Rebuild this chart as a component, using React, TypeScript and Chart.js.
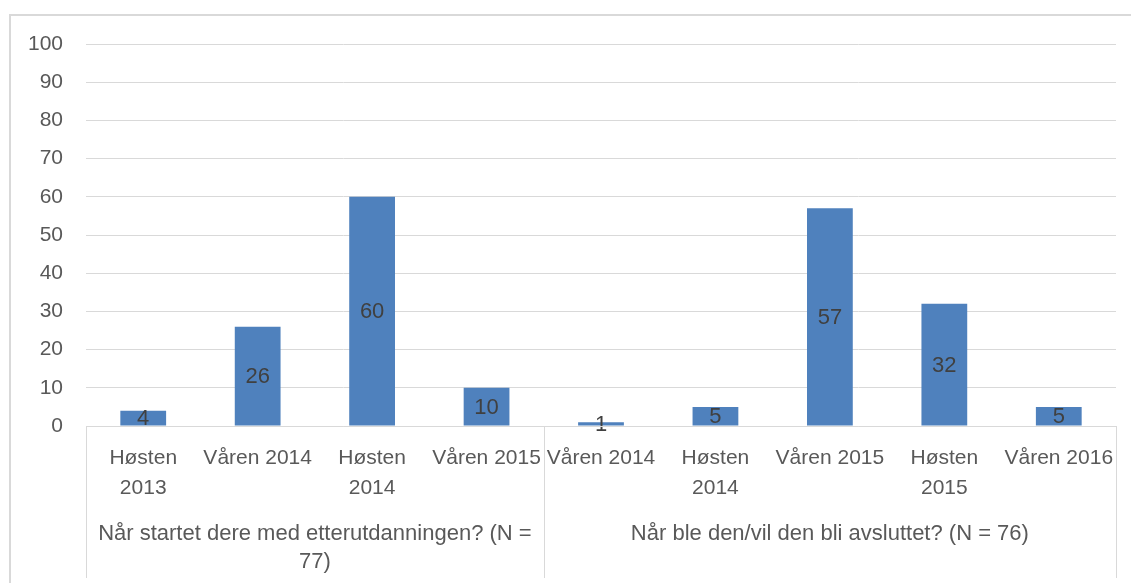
import React, { useEffect, useRef } from "react";
import { Chart, registerables } from "chart.js";

Chart.register(...registerables);

const categoryLines: string[][] = [
  ["Høsten", "2013"],
  ["Våren 2014"],
  ["Høsten", "2014"],
  ["Våren 2015"],
  ["Våren 2014"],
  ["Høsten", "2014"],
  ["Våren 2015"],
  ["Høsten", "2015"],
  ["Våren 2016"],
];
const values: number[] = [4, 26, 60, 10, 1, 5, 57, 32, 5];
const groupLabels: string[][] = [
  ["Når startet dere med etterutdanningen? (N =", "77)"],
  ["Når ble den/vil den bli avsluttet? (N = 76)"],
];
const groupSizes: number[] = [4, 5];
const yMin = 0;
const yMax = 100;
const yStep = 10;

const FONT = "'Liberation Sans', Arial, sans-serif";
const GRID = "#d9d9d9";
const TEXT = "#595959";
const LABEL = "#404040";
const BAR = "#4f81bd";

const customPlugin = {
  id: "custom",
  afterDatasetsDraw(chart: any) {
    const ctx = chart.ctx;
    const meta = chart.getDatasetMeta(0);
    ctx.save();
    ctx.font = `22px ${FONT}`;
    ctx.fillStyle = LABEL;
    ctx.textAlign = "center";
    ctx.textBaseline = "middle";
    meta.data.forEach((bar: any, i: number) => {
      const y = (bar.y + bar.base) / 2;
      ctx.fillText(String(values[i]), bar.x, y + 1);
    });
    ctx.restore();
  },
  afterDraw(chart: any) {
    const ctx = chart.ctx;
    const area = chart.chartArea;
    const xs = chart.scales.x;
    ctx.save();
    // outer frame
    ctx.strokeStyle = GRID;
    ctx.lineWidth = 2;
    ctx.beginPath();
    ctx.moveTo(10, chart.height);
    ctx.lineTo(10, 15);
    ctx.lineTo(chart.width, 15);
    ctx.stroke();

    // axis line and separators
    ctx.lineWidth = 1;
    ctx.beginPath();
    ctx.moveTo(area.left, area.bottom + 0.5);
    ctx.lineTo(area.right, area.bottom + 0.5);
    const n = values.length;
    const step = (area.right - area.left) / n;
    const bounds: number[] = [0];
    let acc = 0;
    groupSizes.forEach((g) => {
      acc += g;
      bounds.push(acc);
    });
    bounds.forEach((b) => {
      const x = Math.round(area.left + b * step) + 0.5;
      ctx.moveTo(x, area.bottom);
      ctx.lineTo(x, area.bottom + 152);
    });
    ctx.stroke();

    // category labels
    ctx.font = `21px ${FONT}`;
    ctx.fillStyle = TEXT;
    ctx.textAlign = "center";
    ctx.textBaseline = "middle";
    categoryLines.forEach((lines, i) => {
      const x = xs.getPixelForValue(i);
      lines.forEach((t, j) => {
        ctx.fillText(t, x, area.bottom + 32 + j * 30);
      });
    });

    // group labels
    ctx.font = `22px ${FONT}`;
    groupLabels.forEach((lines, gi) => {
      const x0 = area.left + bounds[gi] * step;
      const x1 = area.left + bounds[gi + 1] * step;
      const cx = (x0 + x1) / 2;
      lines.forEach((t, j) => {
        ctx.fillText(t, cx, area.bottom + 108 + j * 28);
      });
    });
    ctx.restore();
  },
};

export default function App() {
  const ref = useRef<HTMLCanvasElement | null>(null);
  useEffect(() => {
    if (!ref.current) return;
    const chart = new Chart(ref.current, {
      type: "bar",
      data: {
        labels: categoryLines.map((l) => l.join(" ")),
        datasets: [
          {
            data: values,
            backgroundColor: BAR,
            barPercentage: 0.4,
            categoryPercentage: 1,
          },
        ],
      },
      options: {
        animation: false,
        responsive: false,
        layout: { padding: { top: 44, right: 15, bottom: 157, left: 0 } },
        plugins: { legend: { display: false }, tooltip: { enabled: false } },
        scales: {
          x: { display: false },
          y: {
            min: yMin,
            max: yMax,
            ticks: {
              stepSize: yStep,
              padding: 23,
              color: TEXT,
              font: { family: FONT, size: 21 },
            },
            grid: { color: GRID, drawTicks: false },
            border: { display: false },
            afterFit(scale: any) {
              scale.width = 86;
            },
          },
        },
      },
      plugins: [customPlugin],
    });
    return () => chart.destroy();
  }, []);
  return (
    <div style={{ position: "absolute", left: 0, top: 0, width: 1131, height: 583, background: "#fff" }}>
      <canvas ref={ref} width={1131} height={583} />
    </div>
  );
}
